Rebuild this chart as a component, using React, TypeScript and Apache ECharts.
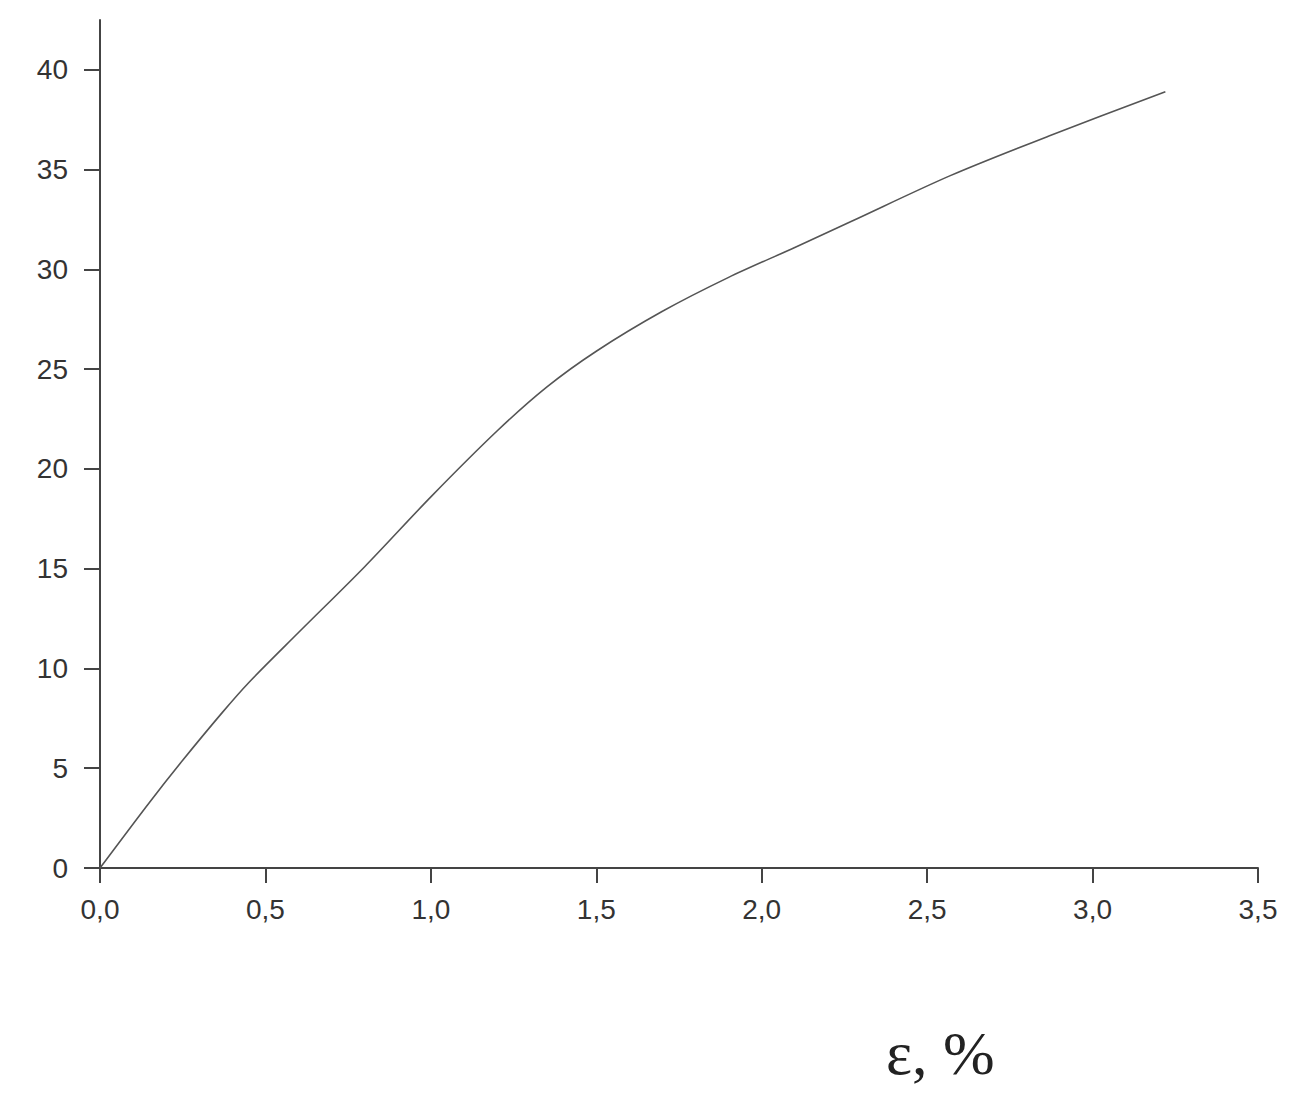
import React, { useEffect, useRef } from "react";
import * as echarts from "echarts";

const strainPct: number[] = [0, 0.15, 0.25, 0.37, 0.45, 0.6, 0.8, 1.0, 1.2, 1.35, 1.5, 1.7, 1.9, 2.1, 2.27, 2.57, 2.87, 3.22];
const stress: number[] = [0, 3.3, 5.4, 7.8, 9.3, 11.8, 15.1, 18.6, 21.9, 24.1, 25.9, 27.9, 29.6, 31.1, 32.4, 34.7, 36.7, 38.9];
const yTicks: number[] = [0, 5, 10, 15, 20, 25, 30, 35, 40];
const xTicks: number[] = [0, 0.5, 1.0, 1.5, 2.0, 2.5, 3.0, 3.5];
const xAxisName = "ε, %";

export default function App() {
  const ref = useRef<HTMLDivElement>(null);
  useEffect(() => {
    if (!ref.current) return;
    const chart = echarts.init(ref.current, null, { renderer: "svg" });
    const axisColor = "#444";
    const textColor = "#333";
    chart.setOption({
      animation: false,
      backgroundColor: "#ffffff",
      grid: { left: 100, right: 31, top: 20, bottom: 225, containLabel: false },
      xAxis: {
        type: "value",
        min: 0,
        max: 3.5,
        interval: 0.5,
        splitLine: { show: false },
        axisLine: { show: true, onZero: false, lineStyle: { color: axisColor, width: 2 } },
        axisTick: { show: true, length: 15, lineStyle: { color: axisColor, width: 2 }, customValues: xTicks },
        axisLabel: {
          color: textColor,
          fontFamily: "Liberation Sans, Arial, sans-serif",
          fontSize: 28,
          margin: 27,
          customValues: xTicks,
          formatter: (v: number) => v.toFixed(1).replace(".", ","),
        },
      },
      yAxis: {
        type: "value",
        min: 0,
        max: 42.5,
        splitLine: { show: false },
        axisLine: { show: true, onZero: false, lineStyle: { color: axisColor, width: 2 } },
        axisTick: { show: true, length: 16, lineStyle: { color: axisColor, width: 2 }, customValues: yTicks },
        axisLabel: {
          color: textColor,
          fontFamily: "Liberation Sans, Arial, sans-serif",
          fontSize: 28,
          margin: 32,
          customValues: yTicks,
        },
      },
      graphic: [
        {
          type: "text",
          left: 886,
          top: 1022,
          style: {
            text: xAxisName,
            fontFamily: "Liberation Serif, Times New Roman, serif",
            fontSize: 62,
            fill: "#222",
          },
        },
      ],
      series: [
        {
          type: "line",
          data: strainPct.map((x, i) => [x, stress[i]]),
          smooth: 0.3,
          showSymbol: false,
          lineStyle: { color: "#555", width: 1.6 },
        },
      ],
    });
    return () => chart.dispose();
  }, []);
  return (
    <div
      ref={ref}
      style={{ position: "fixed", left: 0, top: 0, width: 1289, height: 1093, background: "#fff" }}
    />
  );
}
